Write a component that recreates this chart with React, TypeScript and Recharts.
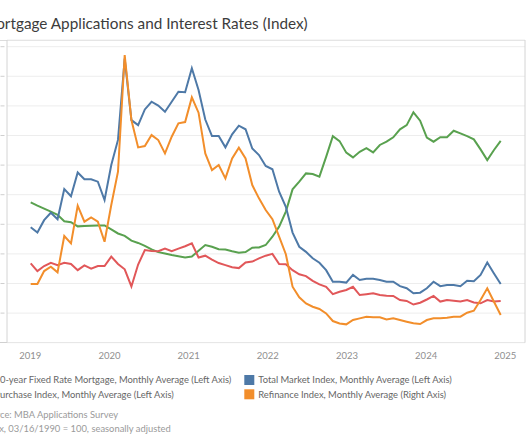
import React from 'react';
import { LineChart, Line, XAxis, YAxis, CartesianGrid } from 'recharts';

// monthly points, Jan 2019 .. Nov 2024
const MONTHS = Array.from({ length: 71 }, (_, i) => `${2019 + Math.floor(i / 12)}-${String((i % 12) + 1).padStart(2, '0')}`);
const YEAR_TICKS = [2019, 2020, 2021, 2022, 2023, 2024, 2025];
const INDEX_TICKS = [0, 100, 200, 300, 400, 500, 600, 700, 800, 900, 1000];

// 30-year fixed rate, %
const rate30yr = [
  4.74, 4.63, 4.53, 4.43, 4.32, 4.10, 4.07, 3.93, 3.94, 3.95, 3.96, 3.96,
  3.83, 3.69, 3.61, 3.45, 3.37, 3.27, 3.15, 3.06, 3.01, 2.96, 2.92, 2.88,
  2.91, 3.11, 3.30, 3.24, 3.16, 3.15, 3.09, 3.04, 3.06, 3.21, 3.22, 3.30,
  3.58, 3.92, 4.43, 5.18, 5.44, 5.72, 5.70, 5.61, 6.28, 6.98, 6.81, 6.42,
  6.26, 6.45, 6.57, 6.43, 6.68, 6.79, 6.94, 7.21, 7.35, 7.78, 7.50, 6.93,
  6.79, 6.94, 6.94, 7.16, 7.07, 6.98, 6.87, 6.53, 6.17, 6.51, 6.82,
];

const totalMarket = [
  390, 372, 414, 439, 417, 519, 495, 575, 552, 552, 544, 482,
  600, 685, 960, 752, 735, 788, 814, 801, 780, 814, 848, 846,
  927, 854, 754, 698, 698, 660, 704, 733, 721, 656, 634, 597,
  586, 510, 459, 372, 324, 307, 285, 270, 245, 206, 206, 203,
  229, 212, 216, 216, 212, 206, 206, 191, 184, 167, 169, 184,
  206, 191, 195, 195, 191, 209, 208, 229, 271, 234, 198,
];

const purchase = [
  268, 242, 259, 270, 262, 270, 266, 245, 261, 250, 259, 259,
  291, 266, 248, 190, 264, 313, 310, 309, 318, 309, 318, 326,
  336, 288, 294, 281, 269, 262, 255, 252, 271, 274, 285, 294,
  300, 266, 265, 245, 231, 225, 209, 197, 189, 164, 172, 178,
  189, 161, 164, 167, 161, 159, 158, 144, 141, 129, 135, 146,
  158, 139, 144, 142, 139, 144, 136, 133, 144, 139, 141,
];

const refinance = [
  991, 991, 1210, 1284, 1188, 1802, 1678, 2314, 2044, 2117, 2044, 1706,
  2325, 2888, 4859, 3761, 3299, 3322, 3507, 3423, 3198, 3479, 3705, 3727,
  4144, 3885, 3198, 2916, 3001, 2776, 3113, 3294, 3113, 2663, 2438, 2241,
  2085, 1790, 1495, 946, 766, 664, 608, 569, 495, 366, 326, 310,
  383, 411, 439, 428, 428, 394, 411, 383, 355, 327, 315, 383,
  411, 411, 422, 439, 439, 507, 540, 721, 918, 692, 467,
];

const COLORS = {
  rate: '#59a14f',
  total: '#4e79a7',
  purchase: '#e15759',
  refi: '#f28e2b',
};

const LEGEND = [
  { label: '30-year Fixed Rate Mortgage, Monthly Average (Left Axis)', color: COLORS.rate, col: 0, row: 0 },
  { label: 'Purchase Index, Monthly Average (Left Axis)', color: COLORS.purchase, col: 0, row: 1 },
  { label: 'Total Market Index, Monthly Average (Left Axis)', color: COLORS.total, col: 1, row: 0 },
  { label: 'Refinance Index, Monthly Average (Right Axis)', color: COLORS.refi, col: 1, row: 1 },
];

const NOTES = ['Source: MBA Applications Survey', 'Index, 03/16/1990 = 100, seasonally adjusted'];

const data = MONTHS.map((month, i) => ({
  month,
  m: i,
  rate: rate30yr[i],
  total: totalMarket[i],
  purchase: purchase[i],
  refi: refinance[i],
}));

const FONT = "Lato, 'Open Sans', sans-serif";

const TickMark = (props: any) => {
  if (!props.payload || props.payload.value === 0) return <g />;
  return <line x1={0.5} x2={4.5} y1={props.y} y2={props.y} stroke="#cfcfcf" />;
};

export default function App() {
  const colX = [-5.5, 258.3];
  const rowY = [380, 394.3];
  return (
    <div style={{ position: 'absolute', left: 0, top: 0, width: 530, height: 442, overflow: 'hidden', background: '#fff' }}>
      <div style={{ position: 'absolute', left: 0, top: 40, width: 525, height: 1, background: '#dcdcdc' }} />
      <div style={{ position: 'absolute', left: 0, top: 342, width: 525, height: 1, background: '#d0d0d0' }} />
      <LineChart
        width={530}
        height={442}
        data={data}
        margin={{ top: 40, right: 0, bottom: 79.3, left: 0 }}
        style={{ position: 'absolute', left: 0, top: 0 }}
      >
        <CartesianGrid xAxisId="m" yAxisId="idx" vertical={false} stroke="#ededed" />
        <XAxis
          xAxisId="yr"
          dataKey="m"
          type="number"
          domain={[2018.7057, 2025.2488]}
          ticks={YEAR_TICKS}
          allowDataOverflow
          axisLine={false}
          tickLine={false}
          height={20}
          tickSize={6}
          tickMargin={4}
          tick={{ fill: '#8f8f8f', fontSize: 9.5, fontFamily: FONT }}
        />
        <XAxis xAxisId="m" dataKey="m" type="number" domain={[-3.53, 73.62]} hide height={0} allowDataOverflow />
        <YAxis
          yAxisId="idx"
          domain={[0, 1022.6]}
          ticks={INDEX_TICKS}
          width={7}
          allowDataOverflow
          axisLine={{ stroke: '#d4d4d4' }}
          tickLine={false}
          tick={TickMark}
        />
        <YAxis yAxisId="rate" domain={[0, 10.226]} hide width={0} allowDataOverflow />
        <YAxis
          yAxisId="refi"
          orientation="right"
          domain={[0, 5113]}
          width={5}
          allowDataOverflow
          tick={false}
          tickLine={false}
          axisLine={{ stroke: '#d4d4d4' }}
        />
        <Line xAxisId="m" yAxisId="rate" dataKey="rate" type="linear" stroke={COLORS.rate} strokeWidth={2} dot={false} isAnimationActive={false} />
        <Line xAxisId="m" yAxisId="idx" dataKey="purchase" type="linear" stroke={COLORS.purchase} strokeWidth={2} dot={false} isAnimationActive={false} />
        <Line xAxisId="m" yAxisId="idx" dataKey="total" type="linear" stroke={COLORS.total} strokeWidth={2} dot={false} isAnimationActive={false} />
        <Line xAxisId="m" yAxisId="refi" dataKey="refi" type="linear" stroke={COLORS.refi} strokeWidth={2} dot={false} isAnimationActive={false} />
      </LineChart>
      <svg width={530} height={442} style={{ position: 'absolute', left: 0, top: 0, pointerEvents: 'none' }}>
        <text x={307.7} y={29.3} textAnchor="end" fontSize={15.3} fill="#3c3c3c" fontFamily={FONT}>
          Mortgage Applications and Interest Rates (Index)
        </text>
        {LEGEND.map((item) => (
          <g key={item.label}>
            <rect x={colX[item.col] - 14} y={rowY[item.row] - 5} width={10} height={10} fill={item.color} />
            <text x={colX[item.col]} y={rowY[item.row] + 3.4} fontSize={9.4} fill="#666" fontFamily={FONT}>
              {item.label}
            </text>
          </g>
        ))}
        {NOTES.map((note, i) => (
          <text key={note} x={-18.8} y={417.5 + i * 14.3} fontSize={9.4} fill="#9a9a9a" fontFamily={FONT}>
            {note}
          </text>
        ))}
      </svg>
    </div>
  );
}
